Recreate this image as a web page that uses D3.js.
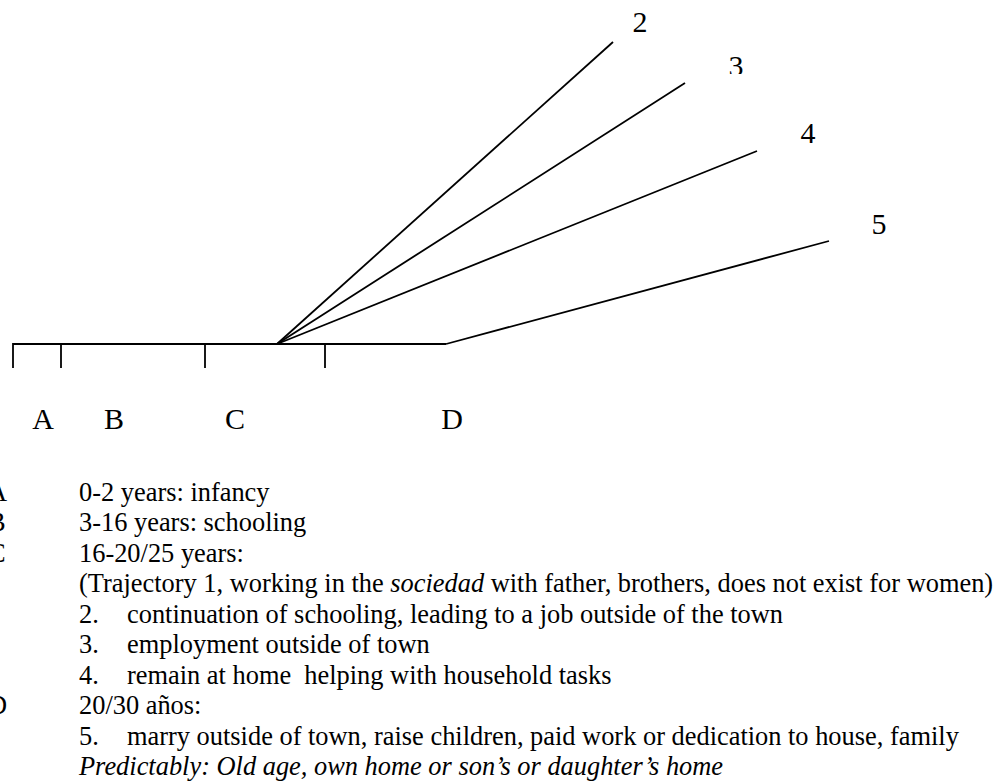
<!DOCTYPE html>
<html lang="en">
<head>
  <meta charset="UTF-8">
  <title>Trajectories</title>
  <style>
    body { margin: 0; background: #fff; overflow: hidden; }
    svg { display: block; }
  </style>
</head>
<body>
  <script src="https://d3js.org/d3.v7.min.js"></script>
  <script>
    // stages along the time line
    const stages = ["A", "B", "C", "D"];
    const stageTickX = [13, 61, 205, 325];
    const stageLabelX = [43, 114, 235, 452];
    const timelineEndX = 446;
    const timelineY = 344;
    const tickLen = 24;
    const stageLabelY = 429;

    // trajectories fanning out
    const branches = ["2", "3", "4", "5"];
    const branchStartX = [277, 277, 277, 446];
    const branchEndX = [613, 685, 757, 829];
    const branchEndY = [42, 83, 151, 241];
    const branchLabelX = [640, 736, 808, 879];
    const branchLabelY = [32, 76, 143, 234];

    // legend lines: key letter, item number, text segments [text, italic]
    const legendKey = ["A", "B", "C", "", "", "", "", "D", "", ""];
    const legendNum = ["", "", "", "", "2.", "3.", "4.", "", "5.", ""];
    const legendText = [
      [["0-2 years: infancy", false]],
      [["3-16 years: schooling", false]],
      [["16-20/25 years:", false]],
      [["(Trajectory 1, working in the ", false], ["sociedad", true], [" with father, brothers, does not exist for women)", false]],
      [["continuation of schooling, leading to a job outside of the town", false]],
      [["employment outside of town", false]],
      [["remain at home  helping with household tasks", false]],
      [["20/30 años:", false]],
      [["marry outside of town, raise children, paid work or dedication to house, family", false]],
      [["Predictably: Old age, own home or son\u2019s or daughter\u2019s home", true]]
    ];

    const serif = "'Liberation Serif', 'Times New Roman', serif";
    const width = 1007, height = 783;
    const x = d3.scaleLinear().domain([0, 1007]).range([0, width]);
    const y = d3.scaleLinear().domain([0, 783]).range([0, height]);
    const row = d3.scaleLinear().domain([0, 9]).range([501, 775]);

    const svg = d3.select("body").append("svg")
      .attr("width", width).attr("height", height)
      .style("font-family", serif);

    const ink = sel => sel.attr("stroke", "#000").attr("stroke-width", 1.8).attr("fill", "none");

    // time line with ticks
    svg.append("line").call(ink)
      .attr("x1", x(stageTickX[0])).attr("x2", x(timelineEndX))
      .attr("y1", y(timelineY)).attr("y2", y(timelineY));

    svg.append("g").selectAll("line").data(stageTickX).enter().append("line")
      .call(ink)
      .attr("x1", d => x(d)).attr("x2", d => x(d))
      .attr("y1", y(timelineY) - 0.9).attr("y2", y(timelineY + tickLen));

    svg.append("g").selectAll("text").data(stages).enter().append("text")
      .style("font-family", serif).style("font-size", "30px")
      .attr("text-anchor", "middle")
      .attr("x", (d, i) => x(stageLabelX[i])).attr("y", y(stageLabelY))
      .text(d => d);

    // branches
    svg.append("g").selectAll("line").data(branches).enter().append("line")
      .call(ink)
      .attr("x1", (d, i) => x(branchStartX[i])).attr("y1", y(timelineY))
      .attr("x2", (d, i) => x(branchEndX[i])).attr("y2", (d, i) => y(branchEndY[i]));

    // the "3" is cut at the bottom in the original
    svg.append("clipPath").attr("id", "clip3")
      .append("rect").attr("x", 0).attr("y", 0).attr("width", width).attr("height", y(74));

    svg.append("g").selectAll("text").data(branches).enter().append("text")
      .style("font-family", serif).style("font-size", "30px")
      .attr("text-anchor", "middle")
      .attr("x", (d, i) => x(branchLabelX[i])).attr("y", (d, i) => y(branchLabelY[i]))
      .attr("clip-path", d => d === "3" ? "url(#clip3)" : null)
      .text(d => d);

    // legend
    const legend = svg.append("g");
    const legendLabel = (xPos, i) => legend.append("text")
      .style("font-family", serif).style("font-size", "26.4px").style("white-space", "pre")
      .attr("x", x(xPos)).attr("y", row(i));

    legendText.forEach((parts, i) => {
      if (legendKey[i]) legendLabel(-12, i).text(legendKey[i]);
      let textX = 79;
      if (legendNum[i]) {
        legendLabel(79, i).text(legendNum[i]);
        textX = 127;
      }
      const t = legendLabel(textX, i);
      parts.forEach(([s, it]) => {
        t.append("tspan").style("font-style", it ? "italic" : "normal").text(s);
      });
    });
  </script>
</body>
</html>
